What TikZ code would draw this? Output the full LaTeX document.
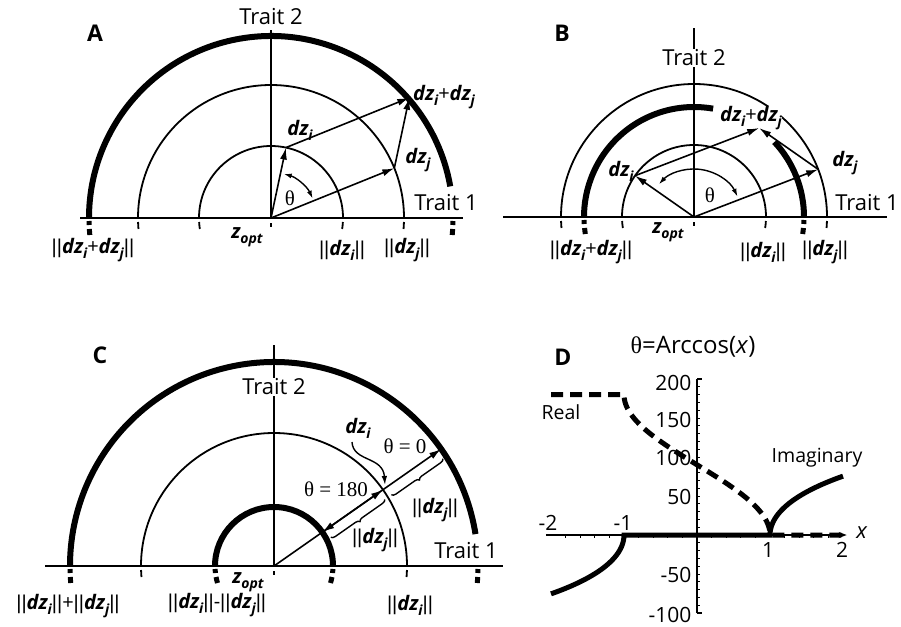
\documentclass[tikz,border=0pt]{standalone}
\usepackage{fontspec}
\setmainfont{Open Sans}
\newfontfamily\serifth{Liberation Serif}
\newfontfamily\barf{Liberation Sans}
\usetikzlibrary{arrows.meta,decorations.pathreplacing,calc}
\newcommand\sbs[1]{\raisebox{-0.45ex}{\fontsize{14}{14}\selectfont #1}}
\newcommand\dz[1]{{\bfseries\itshape dz\sbs{#1}}}
\newcommand\zopt{{\bfseries\itshape z\sbs{opt}}}
\newcommand\bb{{\barf||}}
\newcommand\mytick[2]{%
 \draw[#1] ({-asin(4/#2)}:#2) arc[start angle={-asin(4/#2)}, end angle={-asin(11/#2)}, radius=#2];
 \draw[#1] ({180+asin(4/#2)}:#2) arc[start angle={180+asin(4/#2)}, end angle={180+asin(11/#2)}, radius=#2];}
\newcommand\mythick[1]{%
 \draw[tickthick] ({-asin(3/#1)}:#1) arc[start angle={-asin(3/#1)}, end angle={-asin(7/#1)}, radius=#1];
 \draw[tickthick] ({-asin(11/#1)}:#1) arc[start angle={-asin(11/#1)}, end angle={-asin(17/#1)}, radius=#1];
 \draw[tickthick] ({180+asin(3/#1)}:#1) arc[start angle={180+asin(3/#1)}, end angle={180+asin(7/#1)}, radius=#1];
 \draw[tickthick] ({180+asin(11/#1)}:#1) arc[start angle={180+asin(11/#1)}, end angle={180+asin(17/#1)}, radius=#1];}
\tikzset{
 axis/.style={line width=2.2pt},
 thinarc/.style={line width=1.8pt},
 thickarc/.style={line width=6pt},
 vec/.style={line width=1.6pt,-{Latex[length=12pt,width=7pt]}},
 angarr/.style={line width=1.4pt,{Latex[length=8pt,width=5pt]}-{Latex[length=8pt,width=5pt]}},
 tickthin/.style={line width=1.8pt},
 tickthick/.style={line width=5pt},
 lab/.style={font=\fontsize{20}{24}\selectfont, inner sep=0.5pt},
 trait/.style={font=\fontsize{22}{26}\selectfont, inner sep=1pt},
 panel/.style={font=\fontsize{23}{27}\selectfont\bfseries},
 th/.style={font=\fontsize{21}{25}\selectfont\serifth, inner sep=0.5pt},
 num/.style={font=\fontsize{21}{25}\selectfont, inner sep=0.5pt},
 bracec/.style={line width=1.4pt, decorate, decoration={brace, amplitude=4pt, mirror}},
}
\begin{document}
\begin{tikzpicture}[x=1pt,y=1pt]
\useasboundingbox (0,0) rectangle (901,-626);

% ================= Panel A =================
\begin{scope}[shift={(271,-218)}]
 \coordinate (Ao) at (0,0);
 \draw[axis] (-191,0) -- (192,0);
 \draw[axis] (0,0) -- (0,188);
 \draw[thinarc] (72,0) arc[start angle=0,end angle=180,radius=72];
 \draw[thinarc] (133,0) arc[start angle=0,end angle=180,radius=133];
 \draw[thickarc] (10:182) arc[start angle=10,end angle=180,radius=182];
 \mytick{tickthin}{72}
 \mytick{tickthin}{133}
 \mythick{182}
 \draw[tickthin] (0,-5) -- (0,-9);
 \coordinate (Ai) at (78:72);
 \coordinate (Aj) at (22:133);
 \coordinate (As) at ($(Ai)+(Aj)$);
 \draw[vec] (Ao) -- (Ai);
 \draw[vec] (Ao) -- (Aj);
 \draw[vec] (Ai) -- (As);
 \draw[vec] (Aj) -- (As);
 \draw[angarr] (25:46) arc[start angle=25,end angle=74,radius=46];
\end{scope}
\node[panel] (lA) at (95,-33) {A};
\node[trait] (tA2) at (271,-17) {Trait 2};
\node[trait] (tA1) at (446,-203) {Trait 1};
\node[lab] (Adzi) at (300,-130) {\dz{i}};
\node[lab] (Adzj) at (418,-160) {\dz{j}};
\node[lab] (Adzs) at (444,-97) {\dz{i}+\dz{j}};
\node[th] (Ath) at (290,-198) {θ};
\node[lab] (Azo) at (247,-237) {\zopt};
\node[lab] (An1) at (93,-250) {\bb\dz{i}+\dz{j}\bb};
\node[lab] (An2) at (342,-250) {\bb\dz{i}\bb};
\node[lab] (An3) at (407,-250) {\bb\dz{j}\bb};

% ================= Panel B =================
\begin{scope}[shift={(694,-217)}]
 \coordinate (Bo) at (0,0);
 \coordinate (Bi) at (145:72);
 \coordinate (Bj) at (21:133);
 \coordinate (Bs) at ($(Bi)+(Bj)$);
 \draw[axis] (-191,0) -- (193,0);
 \draw[axis] (0,0) -- (0,189);
 \draw[thinarc] (72,0) arc[start angle=0,end angle=180,radius=72];
 \draw[thinarc] (133,0) arc[start angle=0,end angle=180,radius=133];
 \draw[thickarc] (80:110) arc[start angle=80,end angle=180,radius=110];
 \draw[thickarc] (0:110) arc[start angle=0,end angle=43,radius=110];
 \mytick{tickthin}{72}
 \mytick{tickthin}{133}
 \mythick{110}
 \draw[tickthin] (0,-5) -- (0,-9);
\end{scope}
\node[panel] (lB) at (562,-33) {B};
\node[trait, fill=white] (tB2) at (694,-58) {Trait 2};
\node[trait] (tB1) at (867,-203) {Trait 1};
\node[lab, fill=white] (Bdzs) at (751,-118) {\dz{i}+\dz{j}};
\node[lab] (Bdzj) at (845,-163) {\dz{j}};
\node[lab] (Bdzi) at (621,-171) {\dz{i}};
\node[th] (Bth) at (710,-195) {θ};
\node[lab] (Bzo) at (668,-232) {\zopt};
\node[lab] (Bn1) at (591,-252) {\bb\dz{i}+\dz{j}\bb};
\node[lab] (Bn2) at (763,-252) {\bb\dz{i}\bb};
\node[lab] (Bn3) at (825,-252) {\bb\dz{j}\bb};
\begin{scope}[shift={(694,-217)}]
 \draw[vec] (Bo) -- (Bi);
 \draw[vec] (Bo) -- (Bj);
 \draw[vec] (Bi) -- (Bs);
 \draw[vec] (Bj) -- (Bs);
 \draw[angarr] (25:48) arc[start angle=25,end angle=137,radius=48];
\end{scope}

% ================= Panel C =================
\begin{scope}[shift={(274,-566)}]
 \coordinate (Co) at (0,0);
 \coordinate (Cn) at (35:59);
 \coordinate (Ci) at (35:133);
 \coordinate (Cx) at (35:204);
 \draw[axis] (-229,0) -- (229,0);
 \draw[axis] (0,0) -- (0,221);
 \draw[thickarc] (9:204) arc[start angle=9,end angle=180,radius=204];
 \draw[thinarc] (133,0) arc[start angle=0,end angle=180,radius=133];
 \draw[thickarc] (59,0) arc[start angle=0,end angle=180,radius=59];
 \mythick{204}
 \mytick{tickthin}{133}
 \mythick{59}
 \draw[tickthin] (0,-5) -- (0,-9);
\end{scope}
\node[panel] (lC) at (100,-355) {C};
\node[trait, fill=white] (tC2) at (274,-387) {Trait 2};
\node[trait] (tC1) at (466,-551) {Trait 1};
\node[lab] (Cdzi) at (358,-428) {\dz{i}};
\node[th] (Cth0) at (405,-446) {θ = 0};
\node[th] (Cth1) at (336,-489) {θ = 180};
\node[lab] (Cnj1) at (435,-510) {\bb\dz{j}\bb};
\node[lab] (Cnj2) at (375,-540) {\bb\dz{j}\bb};
\node[lab] (Czo) at (248,-582) {\zopt};
\node[lab] (Cn1) at (68,-606) {\bb\dz{i}\bb+\bb\dz{j}\bb};
\node[lab] (Cn2) at (217,-605) {\bb\dz{i}\bb-\bb\dz{j}\bb};
\node[lab] (Cn3) at (410,-605) {\bb\dz{i}\bb};
\coordinate (Ccs) at (352,-442);
\coordinate (Cce) at (385,-485);
\draw[vec] (Co) -- (Ci);
\draw[vec] (Ci) -- (Cx);
\draw[vec] (Ci) -- (Cn);
\draw[line width=1.4pt,-{Latex[length=9pt,width=5.5pt]}] (Ccs) .. controls (353,-462) and (383,-456) .. (Cce);
\draw[bracec] ($(Cn)+(-55:9)+(35:4)$) -- ($(Ci)+(-55:9)+(35:-4)$);
\draw[bracec] ($(Ci)+(-55:9)+(35:4)$) -- ($(Cx)+(-55:9)+(35:-4)$);

% ================= Panel D =================
\node[panel] (lD) at (563,-357) {D};
\node[font=\fontsize{24}{28}\selectfont, inner sep=0.5pt] (Dtitle) at (693,-347) {{\serifth θ}=Arccos(\textit{x})};
\node[font=\fontsize{19.5}{23}\selectfont, inner sep=0.5pt] (Dreal) at (561,-412) {Real};
\node[font=\fontsize{19.5}{23}\selectfont, inner sep=0.5pt] (Dim) at (817,-458) {Imaginary};
\node[font=\fontsize{22}{26}\selectfont, inner sep=0.5pt] (Dx) at (862,-533) {\textit{x}};
\node[num, anchor=east] (D200) at (692,-383) {200};
\node[num, anchor=east] (D150) at (692,-420) {150};
\node[num, anchor=east] (D100) at (692,-458) {100};
\node[num, anchor=east] (D50) at (692,-497) {50};
\node[num, anchor=east] (Dm50) at (692,-575) {-50};
\node[num, anchor=east] (Dm100) at (692,-615) {-100};
\node[num] (Dxm2) at (548,-523) {-2};
\node[num] (Dxm1) at (623,-523) {-1};
\node[num] (Dx1) at (768,-550) {1};
\node[num] (Dx2) at (842,-550) {2};
\begin{scope}[shift={(697,-535)}, x=73pt, y=0.78pt]
 \draw[line width=2pt] (0,-100) -- (0,200);
 \draw[line width=1.5pt] (0,200) -- ++(5pt,0);
 \draw[line width=1.5pt] (0,-100) -- ++(5pt,0);
 \foreach \v in {-90,-80,...,190} \draw[line width=1pt] (0,\v) -- ++(3pt,0);
 \foreach \u in {-1.8,-1.6,-1.4,-1.2,-0.8,-0.6,-0.4,-0.2,0.2,0.4,0.6,0.8,1.2,1.4,1.6,1.8} \draw[line width=1pt] (\u,0) -- ++(0,-3pt);
 \draw[line width=2pt,-{Stealth[length=8pt,width=6pt]}] (-2.07,0) -- (2.05,0);
 \draw[line width=5pt, dash pattern=on 12pt off 7pt] (-2,180) -- (-1,180) -- plot[domain=180:0, samples=60, variable=\t] ({cos(\t)},{\t}) -- (2,0);
 \draw[line width=5pt] plot[domain=1.317:0, samples=40, variable=\s] ({-cosh(\s)},{-\s*57.2958}) -- plot[domain=0:1.317, samples=40, variable=\s] ({cosh(\s)},{\s*57.2958});
\end{scope}
\end{tikzpicture}
\end{document}
